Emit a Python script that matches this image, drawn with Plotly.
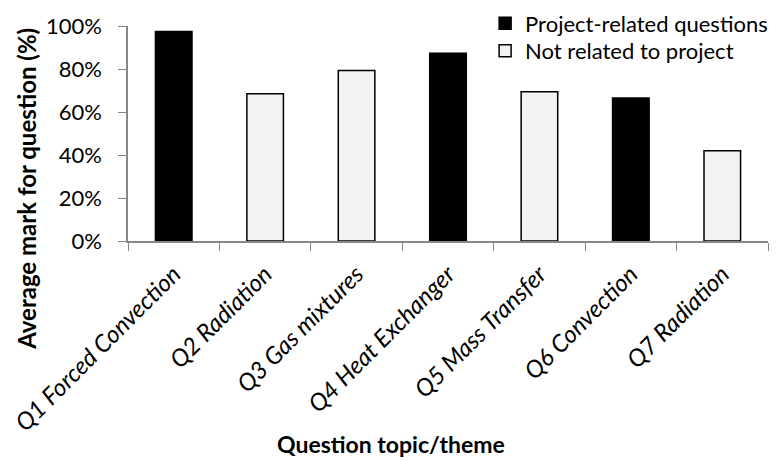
import plotly.graph_objects as go

categories = ["Q1 Forced Convection", "Q2 Radiation", "Q3 Gas mixtures",
              "Q4 Heat Exchanger", "Q5 Mass Transfer", "Q6 Convection", "Q7 Radiation"]
values = [0.975, 0.685, 0.793, 0.873, 0.694, 0.665, 0.42]
project_related = [True, False, False, True, False, True, False]
y_ticks = [0, 0.2, 0.4, 0.6, 0.8, 1.0]

proj_x = [c for c, p in zip(categories, project_related) if p]
proj_y = [v for v, p in zip(values, project_related) if p]
other_x = [c for c, p in zip(categories, project_related) if not p]
other_y = [v for v, p in zip(values, project_related) if not p]

FONT = "Lato"
AXIS = "#878787"

fig = go.Figure()
fig.add_trace(go.Bar(x=proj_x, y=proj_y, name="Project-related questions",
                     marker=dict(color="black", line=dict(color="black", width=1.5)),
                     width=0.4, legend="legend"))
fig.add_trace(go.Bar(x=other_x, y=other_y, name="Not related to project",
                     marker=dict(color="#f2f2f2", line=dict(color="black", width=1.5)),
                     width=0.4, legend="legend2"))

legend_style = dict(xanchor="left", yanchor="top", font=dict(size=22, family=FONT),
                    bgcolor="rgba(0,0,0,0)")

# page body has an 8px margin, so the figure is 8px smaller and offset
fig.update_layout(
    width=775, height=453,
    barmode="overlay",
    plot_bgcolor="white", paper_bgcolor="white",
    margin=dict(l=120, r=15, t=18, b=220, autoexpand=False),
    font=dict(family=FONT, color="black"),
    showlegend=True,
    legend=dict(x=0.558, y=1.11, **legend_style),
    legend2=dict(x=0.558, y=0.982, **legend_style),
    annotations=[
        dict(text="<b>Average mark for question (%)</b>", xref="paper", yref="paper",
             x=-0.158, y=0.242, textangle=-90, showarrow=False,
             font=dict(size=24, family=FONT), xanchor="center", yanchor="middle"),
        dict(text="<b>Question topic/theme</b>", xref="paper", yref="paper",
             x=0.411, y=-0.945, showarrow=False,
             font=dict(size=23, family=FONT), xanchor="center", yanchor="middle"),
    ],
)
fig.update_xaxes(
    categoryorder="array", categoryarray=categories,
    showline=True, linecolor=AXIS, linewidth=1.5,
    ticks="outside", tickson="boundaries", ticklen=8, tickcolor=AXIS, tickwidth=1,
    tickangle=-45, tickfont=dict(size=24, family=FONT, style="italic"),
    ticklabelstandoff=8,
    showgrid=False, automargin=False,
)
fig.update_yaxes(
    range=[0, 1], tickvals=y_ticks, tickformat=".0%",
    showline=True, linecolor=AXIS, linewidth=1.5,
    ticks="outside", ticklen=8, tickcolor=AXIS, tickwidth=1,
    tickfont=dict(size=22, family=FONT), ticklabelstandoff=12,
    showgrid=False, zeroline=False, automargin=False,
)

fig.write_html("out.html")
